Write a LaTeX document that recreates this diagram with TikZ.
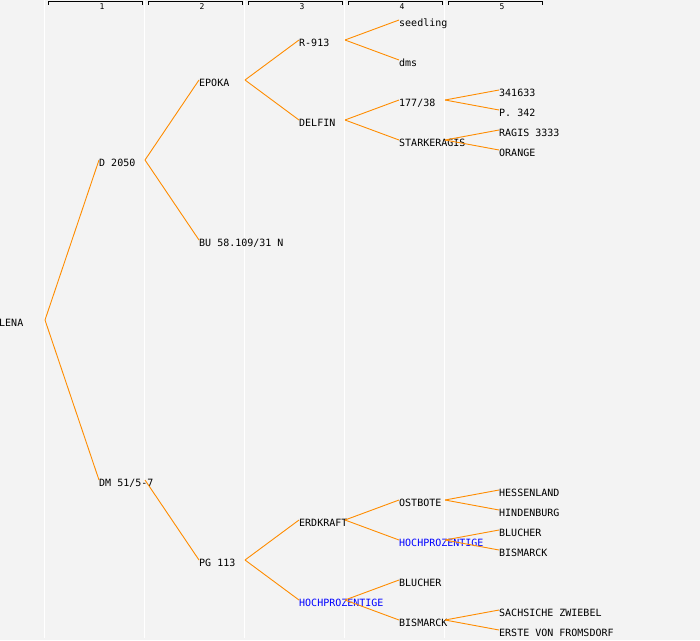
\documentclass[tikz,border=0pt]{standalone}
\usepackage{fontspec}
\setmonofont{DejaVu Sans Mono}
\newfontfamily\hdrfont{DejaVu Sans Mono}
\begin{document}
\begin{tikzpicture}[x=1pt,y=-1pt,
  lbl/.style={anchor=base west,inner sep=0pt,font=\ttfamily\fontsize{10}{10}\selectfont,text=black},
  blbl/.style={lbl,text=blue},
  edge/.style={draw=treeorange,line width=0.9pt},
  colline/.style={draw=white,line width=1.2pt},
  bracket/.style={draw=black,line width=0.9pt},
  hdr/.style={inner sep=0pt,font=\hdrfont\fontsize{8}{8}\selectfont}]
\definecolor{treeorange}{HTML}{FF8C00}
\definecolor{bggray}{HTML}{F3F3F3}
\fill[bggray] (0,0) rectangle (700,640);
\useasboundingbox (0,0) rectangle (700,640);
% column separators
\foreach \cx in {44.5,144.5,244.5,344.5,444.5}
  \draw[colline] (\cx,0) -- (\cx,638);
% header brackets
\foreach \k in {1,...,5} {
  \draw[bracket] (100*\k-52,4.5) -- (100*\k-52,1.5) -- (100*\k+42,1.5) -- (100*\k+42,4.5);
  \node[hdr] (h\k) at (100*\k+2,6.5) {\k};
}
% node macro: name, text x, line y, text, style
\newcommand\tnode[5]{%
  \node[#5] (#1) at (#2,#3+6) {#4};
  \coordinate (#1-in) at (#2,#3);
  \coordinate (#1-out) at (#2+46,#3);
}
\tnode{lena}{-1}{320}{LENA}{lbl}
\tnode{d2050}{99}{160}{D 2050}{lbl}
\tnode{dm51}{99}{480}{DM 51/5-7}{lbl}
\tnode{epoka}{199}{80}{EPOKA}{lbl}
\tnode{bu58}{199}{240}{BU 58.109/31 N}{lbl}
\tnode{pg113}{199}{560}{PG 113}{lbl}
\tnode{r913}{299}{40}{R-913}{lbl}
\tnode{delfin}{299}{120}{DELFIN}{lbl}
\tnode{erdkraft}{299}{520}{ERDKRAFT}{lbl}
\tnode{hochA}{299}{600}{HOCHPROZENTIGE}{blbl}
\tnode{seedling}{399}{20}{seedling}{lbl}
\tnode{dms}{399}{60}{dms}{lbl}
\tnode{n177}{399}{100}{177/38}{lbl}
\tnode{stark}{399}{140}{STARKERAGIS}{lbl}
\tnode{ostbote}{399}{500}{OSTBOTE}{lbl}
\tnode{hochB}{399}{540}{HOCHPROZENTIGE}{blbl}
\tnode{blucherA}{399}{580}{BLUCHER}{lbl}
\tnode{bismarckA}{399}{620}{BISMARCK}{lbl}
\tnode{n341}{499}{90}{341633}{lbl}
\tnode{p342}{499}{110}{P. 342}{lbl}
\tnode{ragis}{499}{130}{RAGIS 3333}{lbl}
\tnode{orange}{499}{150}{ORANGE}{lbl}
\tnode{hessen}{499}{490}{HESSENLAND}{lbl}
\tnode{hinden}{499}{510}{HINDENBURG}{lbl}
\tnode{blucherB}{499}{530}{BLUCHER}{lbl}
\tnode{bismarckB}{499}{550}{BISMARCK}{lbl}
\tnode{sachs}{499}{610}{SACHSICHE ZWIEBEL}{lbl}
\tnode{erste}{499}{630}{ERSTE VON FROMSDORF}{lbl}
% edges
\draw[edge] (lena-out) -- (d2050-in);
\draw[edge] (lena-out) -- (dm51-in);
\draw[edge] (d2050-out) -- (epoka-in);
\draw[edge] (d2050-out) -- (bu58-in);
\draw[edge] (dm51-out) -- (pg113-in);
\draw[edge] (epoka-out) -- (r913-in);
\draw[edge] (epoka-out) -- (delfin-in);
\draw[edge] (pg113-out) -- (erdkraft-in);
\draw[edge] (pg113-out) -- (hochA-in);
\draw[edge] (r913-out) -- (seedling-in);
\draw[edge] (r913-out) -- (dms-in);
\draw[edge] (delfin-out) -- (n177-in);
\draw[edge] (delfin-out) -- (stark-in);
\draw[edge] (erdkraft-out) -- (ostbote-in);
\draw[edge] (erdkraft-out) -- (hochB-in);
\draw[edge] (hochA-out) -- (blucherA-in);
\draw[edge] (hochA-out) -- (bismarckA-in);
\draw[edge] (n177-out) -- (n341-in);
\draw[edge] (n177-out) -- (p342-in);
\draw[edge] (stark-out) -- (ragis-in);
\draw[edge] (stark-out) -- (orange-in);
\draw[edge] (ostbote-out) -- (hessen-in);
\draw[edge] (ostbote-out) -- (hinden-in);
\draw[edge] (hochB-out) -- (blucherB-in);
\draw[edge] (hochB-out) -- (bismarckB-in);
\draw[edge] (bismarckA-out) -- (sachs-in);
\draw[edge] (bismarckA-out) -- (erste-in);
\end{tikzpicture}
\end{document}
